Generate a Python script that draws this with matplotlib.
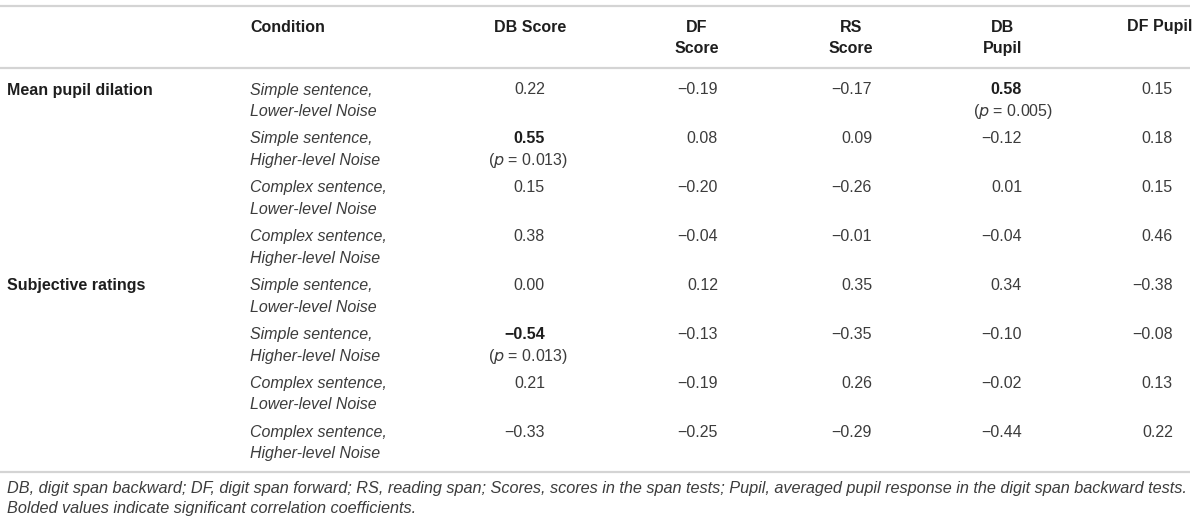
import matplotlib.pyplot as plt

plt.rcParams['font.family'] = ['Liberation Sans', 'DejaVu Sans']

groups = ["Mean pupil dilation", "Subjective ratings"]
conditions = [
    "Simple sentence,\nLower-level Noise",
    "Simple sentence,\nHigher-level Noise",
    "Complex sentence,\nLower-level Noise",
    "Complex sentence,\nHigher-level Noise",
]
columns = ["DB Score", "DF\nScore", "RS\nScore", "DB\nPupil", "DF Pupil"]

# rows: 4 conditions for pupil dilation, then 4 for subjective ratings
values = [
    [0.22, -0.19, -0.17, 0.58, 0.15],
    [0.55, 0.08, 0.09, -0.12, 0.18],
    [0.15, -0.20, -0.26, 0.01, 0.15],
    [0.38, -0.04, -0.01, -0.04, 0.46],
    [0.00, 0.12, 0.35, 0.34, -0.38],
    [-0.54, -0.13, -0.35, -0.10, -0.08],
    [0.21, -0.19, 0.26, -0.02, 0.13],
    [-0.33, -0.25, -0.29, -0.44, 0.22],
]
# significant cells: (row, col) -> p value
significant = {(1, 0): "0.013", (0, 3): "0.005", (5, 0): "0.013"}

footnote = ("DB, digit span backward; DF, digit span forward; RS, reading span; "
            "Scores, scores in the span tests; Pupil, averaged pupil response in "
            "the digit span backward tests.\nBolded values indicate significant "
            "correlation coefficients.")

# layout (pixels)
col_head_x = [530, 697, 851, 1003, 1160]
col_right_x = [545, 718, 872, 1022, 1173]
p_x = [528, 699, 853, 1013, 1162]
row_y0, row_step, line_gap = 90, 48.9, 21.5

dark = "#1e1e1e"
grey = "#3c3c3c"
rule = "#d4d4d4"
fs = 11.5

fig = plt.figure(figsize=(12, 5.25), dpi=100)
ax = fig.add_axes([0, 0, 1, 1])
ax.set_xlim(0, 1200)
ax.set_ylim(525, 0)
ax.axis("off")

for y in (6, 68, 472):
    ax.plot([0, 1190], [y, y], color=rule, lw=1.6, solid_capstyle="butt")

# header
ax.text(250, 27, "Condition", fontsize=fs, fontweight="bold", color=dark,
        ha="left", va="center")
for x, name in zip(col_head_x, columns):
    lines = name.split("\n")
    for k, ln in enumerate(lines):
        ax.text(x, 27 + k * line_gap, ln, fontsize=fs, fontweight="bold",
                color=dark, ha="center", va="center")

# body
for i, row in enumerate(values):
    y = row_y0 + i * row_step
    if i % 4 == 0:
        ax.text(7, y, groups[i // 4], fontsize=fs, fontweight="bold",
                color=dark, ha="left", va="center")
    c1, c2 = conditions[i % 4].split("\n")
    ax.text(250, y, c1, fontsize=fs, style="italic", color=grey,
            ha="left", va="center")
    ax.text(250, y + line_gap, c2, fontsize=fs, style="italic", color=grey,
            ha="left", va="center")
    for j, v in enumerate(row):
        s = f"{v:.2f}".replace("-", "\u2212")
        if (i, j) in significant:
            ax.text(col_right_x[j], y, s, fontsize=fs, fontweight="bold",
                    color=dark, ha="right", va="center")
            ax.text(p_x[j], y + line_gap,
                    "($\\it{p}$ = " + significant[(i, j)] + ")",
                    fontsize=fs, color=grey, ha="center", va="center")
        else:
            ax.text(col_right_x[j], y, s, fontsize=fs, color=grey,
                    ha="right", va="center")

f1, f2 = footnote.split("\n")
ax.text(7, 488, f1, fontsize=11.7, style="italic", color=grey, ha="left", va="center")
ax.text(7, 508, f2, fontsize=11.7, style="italic", color=grey, ha="left", va="center")

fig.savefig("out.png", dpi=100)
